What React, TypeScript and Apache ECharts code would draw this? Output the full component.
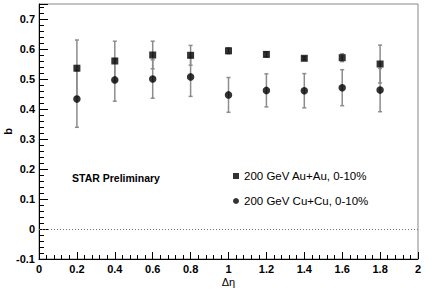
import React, { useEffect, useRef } from "react";
import * as echarts from "echarts";

const deltaEta = [0.2, 0.4, 0.6, 0.8, 1.0, 1.2, 1.4, 1.6, 1.8];
const auauB = [0.536, 0.56, 0.58, 0.579, 0.594, 0.582, 0.569, 0.571, 0.55];
const auauErr = [0.094, 0.066, 0.046, 0.033, 0.01, 0.008, 0.005, 0.013, 0.063];
const cucuB = [0.433, 0.497, 0.5, 0.507, 0.447, 0.462, 0.461, 0.471, 0.463];
const cucuErr = [0.094, 0.071, 0.064, 0.065, 0.058, 0.055, 0.057, 0.06, 0.072];

const FONT = "'Liberation Sans', Arial, Helvetica, sans-serif";

function errorSeries(name: string, ys: number[], errs: number[]) {
  return {
    type: "custom",
    name: name + " err",
    z: 1,
    silent: true,
    data: deltaEta.map((x, i) => [x, ys[i], errs[i]]),
    renderItem: (params: any, api: any) => {
      const x = api.value(0);
      const y = api.value(1);
      const e = api.value(2);
      const lo = api.coord([x, y - e]);
      const hi = api.coord([x, y + e]);
      const cap = 2;
      const st = { stroke: "#8c8c8c", lineWidth: 1.5 };
      return {
        type: "group",
        children: [
          { type: "line", shape: { x1: lo[0], y1: lo[1], x2: hi[0], y2: hi[1] }, style: st },
          { type: "line", shape: { x1: lo[0] - cap, y1: lo[1], x2: lo[0] + cap, y2: lo[1] }, style: st },
          { type: "line", shape: { x1: hi[0] - cap, y1: hi[1], x2: hi[0] + cap, y2: hi[1] }, style: st },
        ],
      };
    },
  };
}

export default function App() {
  const ref = useRef<HTMLDivElement>(null);
  useEffect(() => {
    if (!ref.current) return;
    const chart = echarts.init(ref.current, undefined, { renderer: "svg" });
    const auName = "200 GeV Au+Au, 0-10%";
    const cuName = "200 GeV Cu+Cu, 0-10%";
    chart.setOption({
      animation: false,
      backgroundColor: "#ffffff",
      grid: {
        left: 39,
        right: 18,
        top: 4,
        bottom: 31,
        containLabel: false,
        outerBoundsMode: "none",
        show: true,
        borderColor: "#888888",
        borderWidth: 1,
      },
      legend: {
        orient: "vertical",
        left: 233,
        top: 170,
        padding: 0,
        itemGap: 13,
        itemWidth: 6,
        itemHeight: 6,
        data: [
          { name: auName, icon: "rect" },
          { name: cuName, icon: "circle" },
        ],
        textStyle: { fontFamily: FONT, fontSize: 11.5, color: "#000" },
      },
      graphic: [
        {
          type: "text",
          left: 72,
          top: 172,
          style: { text: "STAR Preliminary", font: `bold 10.5px ${FONT}`, fill: "#000" },
        },
      ],
      xAxis: {
        type: "value",
        min: 0,
        max: 2,
        interval: 0.2,
        name: "Δη",
        nameLocation: "middle",
        nameGap: 17,
        nameMoveOverlap: false,
        nameTextStyle: { fontFamily: FONT, fontSize: 11, color: "#000" },
        axisLine: { show: true, onZero: false, lineStyle: { color: "#000", width: 1 } },
        axisTick: { show: true, inside: true, length: 7, lineStyle: { color: "#000" } },
        minorTick: { show: true, splitNumber: 5, length: 4, lineStyle: { color: "#000" } },
        splitLine: { show: false },
        axisLabel: {
          margin: 4,
          fontFamily: FONT,
          fontSize: 11,
          fontWeight: "bold",
          color: "#000",
          formatter: (v: number) => String(Math.round(v * 10) / 10),
        },
      },
      yAxis: {
        type: "value",
        min: -0.1,
        max: 0.75,
        interval: 0.1,
        name: "b",
        nameLocation: "middle",
        nameGap: 26,
        nameMoveOverlap: false,
        nameRotate: 90,
        nameTextStyle: { fontFamily: FONT, fontSize: 11, fontWeight: "bold", color: "#000" },
        axisLine: { show: true, onZero: false, lineStyle: { color: "#000", width: 1 } },
        axisTick: { show: true, inside: true, length: 9, lineStyle: { color: "#000" } },
        minorTick: { show: true, splitNumber: 5, length: 5, lineStyle: { color: "#000" } },
        splitLine: { show: false },
        axisLabel: {
          margin: 4,
          fontFamily: FONT,
          fontSize: 11,
          fontWeight: "bold",
          color: "#000",
          showMaxLabel: false,
          formatter: (v: number) => {
            const r = Math.round(v * 100) / 100;
            if (Math.abs(r * 10 - Math.round(r * 10)) > 1e-6) return "";
            return String(r);
          },
        },
      },
      series: [
        errorSeries(auName, auauB, auauErr),
        errorSeries(cuName, cucuB, cucuErr),
        {
          type: "scatter",
          name: auName,
          symbol: "rect",
          symbolSize: 7,
          z: 3,
          itemStyle: { color: "#000" },
          data: deltaEta.map((x, i) => [x, auauB[i]]),
          markLine: {
            silent: true,
            symbol: "none",
            label: { show: false },
            lineStyle: { color: "#777", type: [1, 2], width: 1 },
            data: [{ yAxis: 0 }],
          },
        },
        {
          type: "scatter",
          name: cuName,
          symbol: "circle",
          symbolSize: 7.5,
          z: 3,
          itemStyle: { color: "#000" },
          data: deltaEta.map((x, i) => [x, cucuB[i]]),
        },
      ],
    });
    return () => chart.dispose();
  }, []);
  return (
    <div
      ref={ref}
      style={{ position: "absolute", left: 0, top: 0, width: 436, height: 290 }}
    />
  );
}
